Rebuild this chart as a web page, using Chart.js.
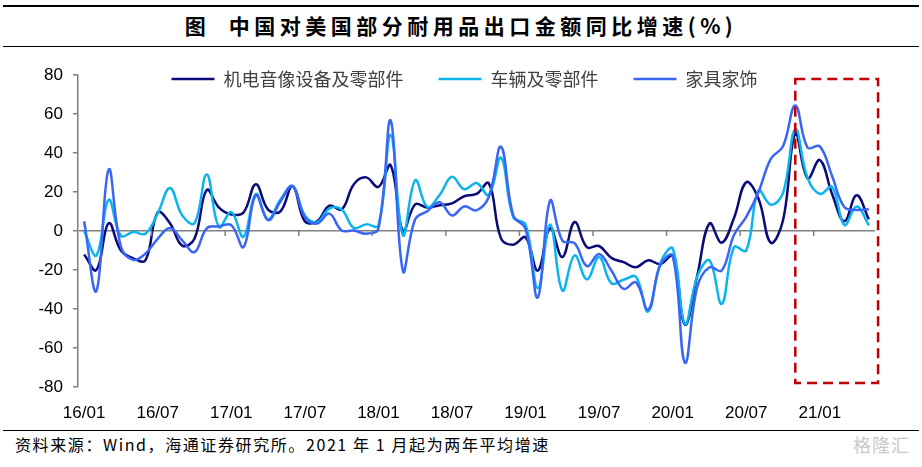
<!DOCTYPE html>
<html>
<head>
<meta charset="utf-8">
<script src="https://cdn.jsdelivr.net/npm/chart.js@4.4.1/dist/chart.umd.min.js"></script>
<style>
  body { margin: 0; background: #fff; }
  #page { position: relative; width: 922px; height: 467px; overflow: hidden; font-family: "Noto Sans CJK SC", sans-serif; }
  .rule { position: absolute; left: 3px; right: 3px; border-top: 1.5px solid #000; }
  #title { position: absolute; left: 0; top: 9px; width: 922px; text-align: center; font-size: 21px; font-weight: bold; letter-spacing: 4.5px; line-height: 32px; color: #000; }
  #wrap { position: absolute; left: 0; top: 0; width: 922px; height: 430px; }
  #foot { position: absolute; left: 15px; top: 431px; font-size: 16px; letter-spacing: 1.6px; line-height: 26px; color: #000; }
  #logo { position: absolute; right: 12px; top: 431px; font-size: 18px; line-height: 26px; color: #c8c8c8; letter-spacing: 1px; }
</style>
</head>
<body>
<div id="page">
  <div class="rule" style="top:5px;border-top-width:2px"></div>
  <div id="title">图&nbsp;&nbsp;中国对美国部分耐用品出口金额同比增速(%)</div>
  <div class="rule" style="top:46px"></div>
  <div id="wrap"><canvas id="chart"></canvas></div>
  <div class="rule" style="top:430px"></div>
  <div id="foot">资料来源：Wind，海通证券研究所。2021 年 1 月起为两年平均增速</div>
  <div id="logo">格隆汇</div>
</div>
<script>
// monthly categories, 2016/01 - 2021/05
const months = [
  '16/01','16/02','16/03','16/04','16/05','16/06','16/07','16/08','16/09','16/10','16/11','16/12',
  '17/01','17/02','17/03','17/04','17/05','17/06','17/07','17/08','17/09','17/10','17/11','17/12',
  '18/01','18/02','18/03','18/04','18/05','18/06','18/07','18/08','18/09','18/10','18/11','18/12',
  '19/01','19/02','19/03','19/04','19/05','19/06','19/07','19/08','19/09','19/10','19/11','19/12',
  '20/01','20/02','20/03','20/04','20/05','20/06','20/07','20/08','20/09','20/10','20/11','20/12',
  '21/01','21/02','21/03','21/04','21/05'
];
const tickLabels = ['16/01','16/07','17/01','17/07','18/01','18/07','19/01','19/07','20/01','20/07','21/01'];

// 机电音像设备及零部件
const electro = [
  -12, -20, 4, -10, -14, -15, 9.5, 4, -7.5, -4, 21, 12,
  8.5, 9.5, 24, 11, 10, 23, 5, 5, 13, 11, 24, 27.5,
  22.6, 33.7, 0, 13.7, 12, 13.2, 14.2, 17.8, 19, 24.5, -3.8, -7,
  -3.3, -20.3, 1.4, -13.3, 4.6, -8.3, -7.7, -13.8, -16, -18.6, -15, -17,
  -12.8, -48, -23, 3.9, -6, 6.7, 25, 16.5, -6, 5.5, 50, 27,
  36.4, 19, 5, 18.3, 6
];
// 车辆及零部件
const vehicle = [
  0, -12.5, 16, -2.5, -0.5, -1.4, 9, 22, 8, 4, 29, 2,
  9.7, -3, 19, 6, 16, 23, 8, 4.5, 11.5, 11, 1.6, 3.4,
  2.8, 49.3, -2.2, 26, 12.3, 18.6, 27.8, 21.4, 24.6, 18.5, 37.6, 7,
  3.2, -29.3, 3.3, -30.5, -12.5, -24.8, -13.4, -26.8, -25, -23.5, -41.3, -16.4,
  -9, -47.6, -23.4, -15.1, -37.4, -8.3, -10, 20.7, 13.5, 19.5, 52.2, 27.1,
  19, 22.6, 3.1, 12.6, 2.9
];
// 家具家饰
const furniture = [
  5, -30.8, 31.5, -8, -14.8, -11.6, -4, 1.5, -4.8, -10.8, 1.4, 2.4,
  3, -8.2, 18.3, 5.5, 15, 23, 7.2, 3.8, 8.9, 0.3, 0.2, -1.4,
  1.2, 56.7, -20.5, 6, 10.2, 14.7, 8, 12.6, 10.6, 17.4, 43.2, 8,
  1, -34.1, 15.5, -4.9, -6.2, -18, -11.8, -20.3, -29.7, -26.3, -40.4, -17.3,
  -12.7, -67.5, -28.8, -18.6, -20.3, -2, 7.2, 20, 37, 43.5, 64.4, 42.8,
  43.4, 28.2, 12.3, 10.8, 11.2
];

// highlighted period (red dashed frame)
const boxMonths = ['20/11', '21/05'];
const boxValues = [78, -78];

const LEGEND_PAD = 35;

const zeroTicks = {
  id: 'zeroTicks',
  afterLayout(chart) {
    // move the legend down into the top of the plot area
    const lg = chart.legend;
    const fs = lg.options.labels.font.size;
    const shift = chart.chartArea.top + 4 - (lg.top + LEGEND_PAD + fs / 2);
    lg.top += shift;
    lg.bottom += shift;
    lg.left -= 12;
    lg.right -= 12;
  },
  afterDatasetsDraw(chart) {
    const { ctx, scales: { x, y } } = chart;
    const step = x.getPixelForValue(1) - x.getPixelForValue(0);
    const y0 = y.getPixelForValue(0);
    ctx.save();
    ctx.strokeStyle = '#808080';
    ctx.lineWidth = 1.5;
    months.forEach((m, i) => {
      if (i > 0 && tickLabels.includes(m)) {
        const px = x.getPixelForValue(i) - step / 2;
        ctx.beginPath();
        ctx.moveTo(px, y0);
        ctx.lineTo(px, y0 + 5);
        ctx.stroke();
      }
    });
    // dashed frame
    const l = x.getPixelForValue(months.indexOf(boxMonths[0]));
    const r = x.getPixelForValue(months.indexOf(boxMonths[1])) + step * 0.75;
    const t = y.getPixelForValue(boxValues[0]);
    const b = y.getPixelForValue(boxValues[1]);
    ctx.setLineDash([10, 6]);
    ctx.strokeStyle = '#C00000';
    ctx.lineWidth = 2.5;
    ctx.strokeRect(l, t, r - l, b - t);
    ctx.restore();
  }
};

const line = (label, data, color, order) => ({
  label, data, order,
  borderColor: color,
  backgroundColor: color,
  borderWidth: 2.5,
  pointRadius: 0,
  tension: 0.4
});

new Chart(document.getElementById('chart'), {
  type: 'line',
  data: {
    labels: months,
    datasets: [
      line('机电音像设备及零部件', electro, '#0A0A78', 3),
      line('车辆及零部件', vehicle, '#0CB4EE', 2),
      line('家具家饰', furniture, '#3A66F5', 1)
    ]
  },
  options: {
    responsive: true,
    maintainAspectRatio: false,
    animation: false,
    layout: { padding: { left: 0, right: 47, top: 12, bottom: 11 } },
    plugins: {
      tooltip: { enabled: false },
      legend: {
        position: 'top',
        fullSize: false,
        labels: {
          usePointStyle: true,
          pointStyle: 'line',
          pointStyleWidth: 43,
          padding: LEGEND_PAD,
          color: '#404040',
          font: { family: '"Noto Sans CJK SC"', size: 18 },
          sort: (a, b) => a.datasetIndex - b.datasetIndex
        }
      }
    },
    scales: {
      x: {
        offset: true,
        grid: { display: false },
        border: { display: false },
        afterFit: s => { s.height = 32; },
        ticks: {
          autoSkip: false,
          maxRotation: 0,
          padding: 8,
          color: '#000',
          font: { family: '"Liberation Sans", Arial', size: 17 },
          callback: (v, i) => tickLabels.includes(months[i]) ? months[i] : null
        }
      },
      y: {
        min: -80,
        max: 80,
        afterFit: s => { s.width = 78; },
        border: { color: '#808080', width: 1.5 },
        grid: {
          color: c => c.tick.value === 0 ? '#808080' : 'rgba(0,0,0,0)',
          lineWidth: 1.5,
          tickColor: '#808080',
          tickLength: 5
        },
        ticks: {
          stepSize: 20,
          padding: 10,
          color: '#000',
          font: { family: '"Liberation Sans", Arial', size: 17 }
        }
      }
    }
  },
  plugins: [zeroTicks]
});
</script>
</body>
</html>
